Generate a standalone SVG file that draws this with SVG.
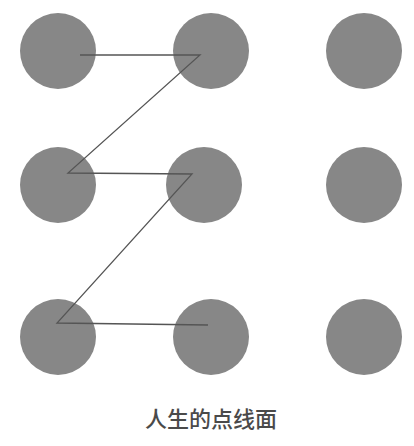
<svg xmlns="http://www.w3.org/2000/svg" width="414" height="446" viewBox="0 0 414 446">
<style>
.dot{fill:#878787}
.ln{stroke:#555555;stroke-width:1.3;fill:none}
.cap{font-family:"Noto Sans CJK SC","Noto Sans",sans-serif;font-size:22px;font-weight:500;fill:#4a4a4a;text-anchor:middle}
</style>
<rect width="414" height="446" fill="#ffffff"/>
<g id="n11"><circle class="dot" cx="58" cy="51" r="38"/></g>
<g id="n12"><circle class="dot" cx="211" cy="51" r="38"/></g>
<g id="n13"><circle class="dot" cx="364" cy="51" r="38"/></g>
<g id="n21"><circle class="dot" cx="58" cy="185" r="38"/></g>
<g id="n22"><circle class="dot" cx="204" cy="185" r="38"/></g>
<g id="n23"><circle class="dot" cx="364" cy="185" r="38"/></g>
<g id="n31"><circle class="dot" cx="58" cy="337" r="38"/></g>
<g id="n32"><circle class="dot" cx="211" cy="337" r="38"/></g>
<g id="n33"><circle class="dot" cx="364" cy="337" r="38"/></g>
<g id="connectors">
<polyline class="ln" points="80,55 200,55 68,173 192,174 57,323 208,325"/>
</g>
<text class="cap" x="211" y="427">人生的点线面</text>
</svg>
